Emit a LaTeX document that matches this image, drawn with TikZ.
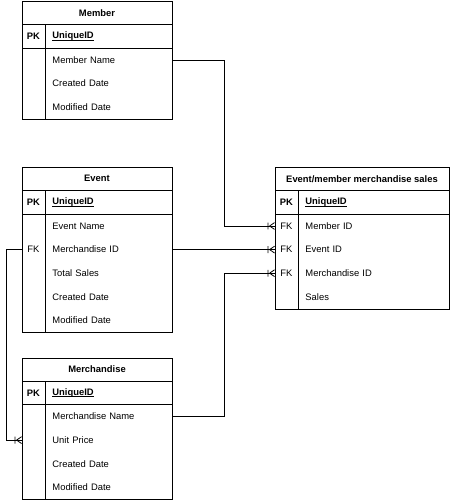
\documentclass[tikz,border=0pt]{standalone}
\usepackage{fontspec}
\setmainfont{Liberation Sans}
\usetikzlibrary{arrows.meta}
\newcommand\ulined[1]{\setbox0\hbox{#1}\rlap{\rule[-1.4pt]{\wd0}{0.6pt}}\box0}
\pgfdeclarearrow{
  name=CrowBar,
  parameters={},
  setup code={
    \pgfarrowssettipend{0pt}
    \pgfarrowssetlineend{0pt}
    \pgfarrowssetbackend{-7pt}
    \pgfarrowssetvisualbackend{-7pt}
  },
  drawing code={
    \pgfpathmoveto{\pgfpoint{-5pt}{0pt}}
    \pgfpathlineto{\pgfpoint{0pt}{3.4pt}}
    \pgfpathmoveto{\pgfpoint{-5pt}{0pt}}
    \pgfpathlineto{\pgfpoint{0pt}{-3.4pt}}
    \pgfpathmoveto{\pgfpoint{-6.5pt}{3.4pt}}
    \pgfpathlineto{\pgfpoint{-6.5pt}{-3.4pt}}
    \pgfusepathqstroke
  }
}
\begin{document}
\begin{tikzpicture}[x=1pt,y=-1pt, line width=0.9pt,
  font=\fontsize{9.4}{11}\selectfont,
  tbl/.style={draw, anchor=north west, inner sep=0pt},
  hdr/.style={font=\fontsize{9.4}{11}\selectfont\bfseries, inner sep=0pt},
  keycell/.style={minimum width=23pt, minimum height=23.6pt, inner sep=0pt},
  fld/.style={anchor=west, minimum height=23.6pt, inner xsep=7pt, inner ysep=0pt, align=left},
  fldL/.style={fld, text width=113pt},
  fldR/.style={fld, text width=137pt},
  rel/.style={draw, -{CrowBar}, line width=0.8pt}
]
\useasboundingbox (0,0) rectangle (450,500);

% ---------- Member ----------
\node[tbl, minimum width=150pt, minimum height=118pt] (member) at (22,1) {};
\node[hdr] (memberh) at (97,12.8) {Member};
\draw (22,24.6) -- (172,24.6);
\draw (22,48.2) -- (172,48.2);
\draw (45,24.6) -- (45,119);
\node[keycell] (memberpk) at (33.5,36.4) {\textbf{PK}};
\node[fldL] (memberid) at (45,36.4) {\ulined{\textbf{UniqueID}}};
\node[fldL] (membername) at (45,60) {Member Name};
\node[fldL] (membercreated) at (45,83.6) {Created Date};
\node[fldL] (membermod) at (45,107.2) {Modified Date};

% ---------- Event ----------
\node[tbl, minimum width=150pt, minimum height=165.2pt] (event) at (22,167) {};
\node[hdr] (eventh) at (97,178.8) {Event};
\draw (22,190.6) -- (172,190.6);
\draw (22,214.2) -- (172,214.2);
\draw (45,190.6) -- (45,332.2);
\node[keycell] (eventpk) at (33.5,202.4) {\textbf{PK}};
\node[fldL] (eventid) at (45,202.4) {\ulined{\textbf{UniqueID}}};
\node[fldL] (eventname) at (45,226) {Event Name};
\node[keycell] (eventfk) at (33.5,249.6) {FK};
\node[fldL] (eventmerch) at (45,249.6) {Merchandise ID};
\node[fldL] (eventsales) at (45,273.2) {Total Sales};
\node[fldL] (eventcreated) at (45,296.8) {Created Date};
\node[fldL] (eventmod) at (45,320.4) {Modified Date};

% ---------- Merchandise ----------
\node[tbl, minimum width=150pt, minimum height=141.6pt] (merch) at (22,357.5) {};
\node[hdr] (merchh) at (97,369.3) {Merchandise};
\draw (22,381.1) -- (172,381.1);
\draw (22,404.7) -- (172,404.7);
\draw (45,381.1) -- (45,499.1);
\node[keycell] (merchpk) at (33.5,392.9) {\textbf{PK}};
\node[fldL] (merchid) at (45,392.9) {\ulined{\textbf{UniqueID}}};
\node[fldL] (merchname) at (45,416.5) {Merchandise Name};
\node[keycell] (merchupk) at (33.5,440.1) {};
\node[fldL] (merchprice) at (45,440.1) {Unit Price};
\node[fldL] (merchcreated) at (45,463.7) {Created Date};
\node[fldL] (merchmod) at (45,487.3) {Modified Date};

% ---------- Event/member merchandise sales ----------
\node[tbl, minimum width=174pt, minimum height=141.6pt] (sales) at (275,167) {};
\node[hdr] (salesh) at (362,178.8) {Event/member merchandise sales};
\draw (275,190.6) -- (449,190.6);
\draw (275,214.2) -- (449,214.2);
\draw (298,190.6) -- (298,308.6);
\node[keycell] (salespk) at (286.5,202.4) {\textbf{PK}};
\node[fldR] (salesid) at (298,202.4) {\ulined{\textbf{UniqueID}}};
\node[keycell] (fkmember) at (286.5,226) {FK};
\node[fldR] (salesmember) at (298,226) {Member ID};
\node[keycell] (fkevent) at (286.5,249.6) {FK};
\node[fldR] (salesevent) at (298,249.6) {Event ID};
\node[keycell] (fkmerch) at (286.5,273.2) {FK};
\node[fldR] (salesmerch) at (298,273.2) {Merchandise ID};
\node[fldR] (salessales) at (298,296.8) {Sales};

% ---------- Relations ----------
\draw[rel] (membername.east) -- ++(51.5,0) |- (fkmember.west);
\draw[rel] (eventmerch.east) -- (fkevent.west);
\draw[rel] (merchname.east) -- ++(51.5,0) |- (fkmerch.west);
\draw[rel] (eventfk.west) -- ++(-15,0) |- (merchupk.west);
\end{tikzpicture}
\end{document}
